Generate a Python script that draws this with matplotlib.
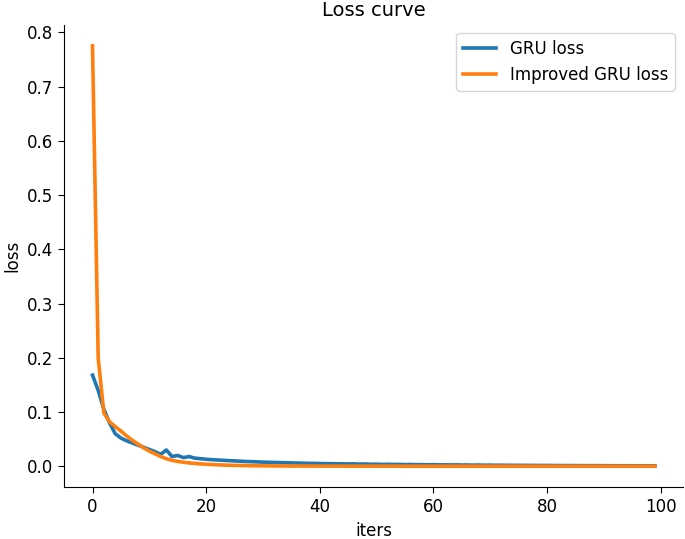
import matplotlib
matplotlib.use("Agg")
import matplotlib.pyplot as plt

iters = list(range(100))
gru_loss = [
    0.168, 0.140, 0.105, 0.080, 0.060, 0.052, 0.047, 0.043, 0.039, 0.035,
    0.031, 0.027, 0.022, 0.030, 0.018, 0.020, 0.016, 0.018, 0.015, 0.014,
    0.013, 0.0122, 0.0116, 0.0110, 0.0104, 0.0099, 0.0094, 0.0089, 0.0085, 0.0081,
    0.0077, 0.0074, 0.0071, 0.0068, 0.0065, 0.0062, 0.0060, 0.0057, 0.0055, 0.0053,
    0.0051, 0.0049, 0.0048, 0.0046, 0.0045, 0.0043, 0.0045, 0.0040, 0.0042, 0.0037,
    0.0039, 0.0035, 0.0037, 0.0033, 0.0035, 0.0031, 0.0033, 0.0029, 0.0031, 0.0027,
    0.0029, 0.0026, 0.0027, 0.0024, 0.0026, 0.0023, 0.0024, 0.0021, 0.0023, 0.0020,
    0.0021, 0.0019, 0.0020, 0.0018, 0.0018, 0.0017, 0.0017, 0.0016, 0.0016, 0.0015,
    0.0015, 0.0014, 0.0014, 0.0013, 0.0013, 0.0013, 0.0012, 0.0012, 0.0012, 0.0011,
    0.0011, 0.0011, 0.0010, 0.0010, 0.0010, 0.0010, 0.0009, 0.0009, 0.0009, 0.0009,
]
improved_loss = [
    0.775, 0.200, 0.098, 0.082, 0.073, 0.065, 0.056, 0.048, 0.041, 0.034,
    0.028, 0.023, 0.018, 0.014, 0.011, 0.009, 0.0075, 0.0063, 0.0053, 0.0045,
    0.0038, 0.0032, 0.0027, 0.0023, 0.0020, 0.0017, 0.0015, 0.0013, 0.0011, 0.0010,
    0.0009, 0.0008, 0.0007, 0.0006, 0.0006, 0.0005, 0.0005, 0.0004, 0.0004, 0.0004,
    0.0003, 0.0003, 0.0003, 0.0003, 0.0003, 0.0002, 0.0002, 0.0002, 0.0002, 0.0002,
    0.0002, 0.0002, 0.0002, 0.0002, 0.0002, 0.0001, 0.0001, 0.0001, 0.0001, 0.0001,
    0.0001, 0.0001, 0.0001, 0.0001, 0.0001, 0.0001, 0.0001, 0.0001, 0.0001, 0.0001,
    0.0001, 0.0001, 0.0001, 0.0001, 0.0001, 0.0001, 0.0001, 0.0001, 0.0001, 0.0001,
    0.0001, 0.0001, 0.0001, 0.0001, 0.0001, 0.0001, 0.0001, 0.0001, 0.0001, 0.0001,
    0.0001, 0.0001, 0.0001, 0.0001, 0.0001, 0.0001, 0.0001, 0.0001, 0.0001, 0.0001,
]

fig, ax = plt.subplots(figsize=(6.85, 5.39), dpi=100)
ax.plot(iters, gru_loss, color="#1f77b4", linewidth=2.6, label="GRU loss")
ax.plot(iters, improved_loss, color="#ff7f0e", linewidth=2.6, label="Improved GRU loss")
ax.set_title("Loss curve", fontsize=14)
ax.set_xlabel("iters", fontsize=12)
ax.set_ylabel("loss", fontsize=12)
ax.tick_params(labelsize=12, length=4.5)
ax.spines["top"].set_visible(False)
ax.spines["right"].set_visible(False)
ax.legend(loc="upper right", fontsize=12)
fig.subplots_adjust(left=0.094, right=0.997, top=0.954, bottom=0.096)
fig.savefig("out.png", dpi=100)
